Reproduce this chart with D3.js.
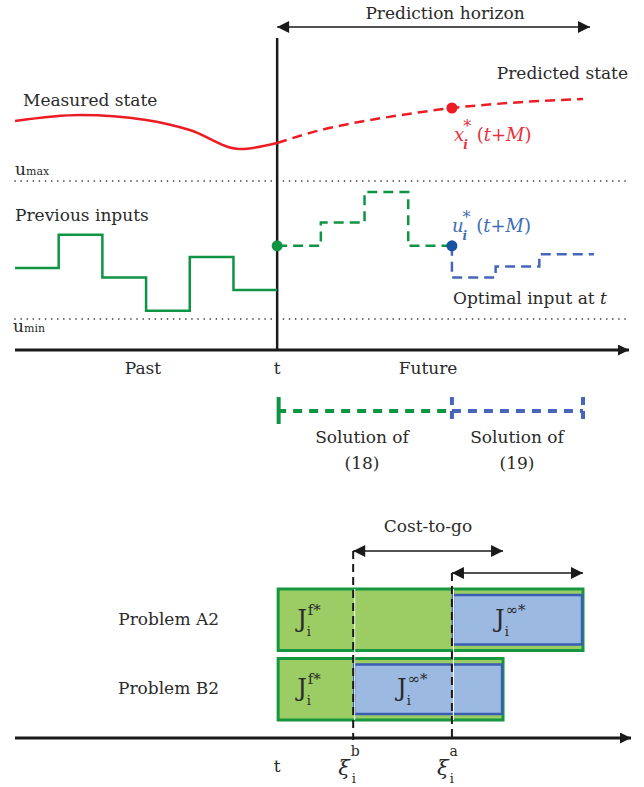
<!DOCTYPE html>
<html>
<head>
<meta charset="utf-8">
<script src="https://cdn.jsdelivr.net/npm/d3@7"></script>
<style>
body { margin: 0; background: #fff; }
text { font-family: "DejaVu Serif", serif; fill: #2a2a2a; }
</style>
</head>
<body>
<div id="chart"></div>
<script>
// MPC prediction horizon sketch + cost-to-go bars

// measured / predicted state (time in input steps, t = 0 is now)
var measuredT = [-6, -4.5, -3, -2, -0.85, 0];
var measuredState = [0.58, 0.70, 0.60, 0.40, 0.02, 0.14];
var predictedT = [0, 1, 2, 3, 4, 5, 6, 7];
var predictedState = [0.14, 0.40, 0.58, 0.72, 0.84, 0.92, 0.98, 1.02];

// previous inputs (step starts) and levels
var pastT = [-6, -5, -4, -3, -2, -1, 0];
var pastInput = [0.37, 0.61, 0.30, 0.06, 0.45, 0.21, 0.21];
// solution of (18), green dashed
var futureT = [0, 1, 2, 3, 4];
var futureInput = [0.53, 0.70, 0.92, 0.53, 0.53];
// solution of (19), blue dashed
var optimalT = [4, 4, 5, 6, 7.25];
var optimalInput = [0.53, 0.30, 0.38, 0.47, 0.47];

// bottom panel
var problems = ["Problem A2", "Problem B2"];
var xiLabels = ["a", "b"];
var xiT = [4, 1.74];        // switching instant per problem
var endT = [7, 5.17];       // end of the cost-to-go per problem

var width = 644, height = 787;

var svg = d3.select("#chart").append("svg")
	.attr("width", width)
	.attr("height", height);

var x = d3.scaleLinear().domain([-6, 7]).range([15, 583]);
var yState = d3.scaleLinear().domain([0, 1]).range([150, 100]);
var yInput = d3.scaleLinear().domain([0, 1]).range([319, 181]);
var yRow = d3.scaleBand().domain(problems).range([589, 720]).paddingInner(0.115);

var red = "#ec1c24", green = "#0f9444", blue = "#4766b8", blueDot = "#1552a0";

var defs = svg.append("defs");
function marker(id, len, wid) {
	defs.append("marker")
		.attr("id", id)
		.attr("markerUnits", "userSpaceOnUse")
		.attr("viewBox", "0 0 10 10")
		.attr("refX", 10).attr("refY", 5)
		.attr("markerWidth", len).attr("markerHeight", wid)
		.attr("orient", "auto-start-reverse")
	  .append("path")
		.attr("d", "M0,0L10,5L0,10z")
		.attr("fill", "#1a1a1a");
}
marker("big", 15, 11);
marker("small", 15, 12);

// ---------- top panel ----------
var state = d3.line()
	.x(function(d) { return x(d[0]); })
	.y(function(d) { return yState(d[1]); })
	.curve(d3.curveMonotoneX);

var step = d3.line()
	.x(function(d) { return x(d[0]); })
	.y(function(d) { return yInput(d[1]); })
	.curve(d3.curveStepAfter);

// u limits
[1, 0].forEach(function(v) {
	svg.append("line")
		.attr("x1", 15).attr("x2", 628)
		.attr("y1", yInput(v)).attr("y2", yInput(v))
		.attr("stroke", "#222").attr("stroke-width", 1.6)
		.attr("stroke-linecap", "round")
		.attr("stroke-dasharray", "0.1,6");
});
var um = svg.append("text").attr("x", 15).attr("y", 175);
um.append("tspan").style("font-size", "17px").text("u");
um.append("tspan").style("font-size", "11px").text("max");
var un = svg.append("text").attr("x", 13).attr("y", 332);
un.append("tspan").style("font-size", "17px").text("u");
un.append("tspan").style("font-size", "11px").text("min");

// axes
svg.append("line")
	.attr("x1", 15).attr("x2", 629).attr("y1", 350).attr("y2", 350)
	.attr("stroke", "#1a1a1a").attr("stroke-width", 3)
	.attr("marker-end", "url(#big)");
svg.append("line")
	.attr("x1", x(0)).attr("x2", x(0)).attr("y1", 38).attr("y2", 351)
	.attr("stroke", "#1a1a1a").attr("stroke-width", 2.5);

// prediction horizon arrow
svg.append("line")
	.attr("x1", x(0)).attr("x2", 590).attr("y1", 27).attr("y2", 27)
	.attr("stroke", "#1a1a1a").attr("stroke-width", 1.4)
	.attr("marker-start", "url(#small)").attr("marker-end", "url(#small)");
svg.append("text").attr("x", 445).attr("y", 19).attr("text-anchor", "middle")
	.style("font-size", "17px").text("Prediction horizon");

// state curves
svg.append("path")
	.datum(d3.zip(measuredT, measuredState))
	.attr("d", state)
	.attr("fill", "none").attr("stroke", red).attr("stroke-width", 2.5);
svg.append("path")
	.datum(d3.zip(predictedT, predictedState))
	.attr("d", state)
	.attr("fill", "none").attr("stroke", red).attr("stroke-width", 2.5)
	.attr("stroke-dasharray", "10,6");
svg.append("circle")
	.attr("cx", x(4)).attr("cy", yState(predictedState[4])).attr("r", 5.5)
	.attr("fill", red);

svg.append("text").attr("x", 23).attr("y", 106).style("font-size", "17px").text("Measured state");
svg.append("text").attr("x", 628).attr("y", 79).attr("text-anchor", "end")
	.style("font-size", "17px").text("Predicted state");

// inputs
svg.append("path")
	.datum(d3.zip(pastT, pastInput))
	.attr("d", step)
	.attr("fill", "none").attr("stroke", green).attr("stroke-width", 2.5);
svg.append("path")
	.datum(d3.zip(futureT, futureInput))
	.attr("d", step)
	.attr("fill", "none").attr("stroke", green).attr("stroke-width", 2.5)
	.attr("stroke-dasharray", "10,6");
svg.append("path")
	.datum(d3.zip(optimalT, optimalInput))
	.attr("d", step)
	.attr("fill", "none").attr("stroke", blue).attr("stroke-width", 2.5)
	.attr("stroke-dasharray", "10,6");
svg.append("circle")
	.attr("cx", x(0)).attr("cy", yInput(futureInput[0])).attr("r", 5.5)
	.attr("fill", green);
svg.append("circle")
	.attr("cx", x(4)).attr("cy", yInput(futureInput[4])).attr("r", 5.5)
	.attr("fill", blueDot);

svg.append("text").attr("x", 15).attr("y", 221).style("font-size", "17px").text("Previous inputs");
svg.append("text").attr("x", 453).attr("y", 304).style("font-size", "17px")
	.text("Optimal input at ")
  .append("tspan").style("font-style", "italic").text("t");

// math labels x*_i(t+M), u*_i(t+M) -- one text, tspans shifted by dx/dy
function mathLabel(sym, xp, yp, color) {
	var t = svg.append("text").attr("x", xp).attr("y", yp).style("fill", color);
	t.append("tspan").style("font-size", "18px").style("font-style", "italic").text(sym);
	t.append("tspan").attr("dx", -1).attr("dy", -9).style("font-size", "16px").text("*");
	t.append("tspan").attr("dx", -8).attr("dy", 17).style("font-size", "12px")
		.style("font-style", "italic").style("font-weight", "bold").text("i");
	t.append("tspan").attr("dx", 9).attr("dy", -8).style("font-size", "18px").text("(");
	t.append("tspan").style("font-size", "18px").style("font-style", "italic").text("t");
	t.append("tspan").style("font-size", "18px").text("+");
	t.append("tspan").style("font-size", "18px").style("font-style", "italic").text("M");
	t.append("tspan").style("font-size", "18px").text(")");
}
mathLabel("x", 454, 141, "#e8323c");
mathLabel("u", 452, 232, "#3e6db5");

// time axis labels
svg.append("text").attr("x", 143).attr("y", 374).attr("text-anchor", "middle").style("font-size", "17px").text("Past");
svg.append("text").attr("x", x(0)).attr("y", 374).attr("text-anchor", "middle").style("font-size", "17px").text("t");
svg.append("text").attr("x", 428).attr("y", 374).attr("text-anchor", "middle").style("font-size", "17px").text("Future");

// solution spans
svg.append("line")
	.attr("x1", x(0)).attr("x2", x(4)).attr("y1", 411).attr("y2", 411)
	.attr("stroke", green).attr("stroke-width", 4).attr("stroke-dasharray", "9,7");
svg.append("line")
	.attr("x1", x(0) + 1.5).attr("x2", x(0) + 1.5).attr("y1", 397).attr("y2", 424)
	.attr("stroke", green).attr("stroke-width", 4);
svg.append("line")
	.attr("x1", x(4)).attr("x2", x(7)).attr("y1", 411).attr("y2", 411)
	.attr("stroke", blue).attr("stroke-width", 4).attr("stroke-dasharray", "9,7");
[4, 7].forEach(function(t) {
	svg.append("line")
		.attr("x1", x(t)).attr("x2", x(t)).attr("y1", 397).attr("y2", 424)
		.attr("stroke", blue).attr("stroke-width", 4).attr("stroke-dasharray", "8,6");
});
[[362, "(18)"], [517, "(19)"]].forEach(function(s) {
	svg.append("text").attr("x", s[0]).attr("y", 443).attr("text-anchor", "middle")
		.style("font-size", "17px").text("Solution of");
	svg.append("text").attr("x", s[0]).attr("y", 469).attr("text-anchor", "middle")
		.style("font-size", "17px").text(s[1]);
});

// ---------- bottom panel ----------
svg.append("text").attr("x", 428).attr("y", 532).attr("text-anchor", "middle")
	.style("font-size", "17px").text("Cost-to-go");

function jLabel(xp, yp, sup, supW) {
	var t = svg.append("text").attr("x", xp).attr("y", yp);
	t.append("tspan").style("font-size", "24px").text("J");
	t.append("tspan").attr("dx", 1).attr("dy", -12).style("font-size", "15px").text(sup);
	t.append("tspan").attr("dx", -supW).attr("dy", 21).style("font-size", "13px").text("i");
}

// rows
problems.forEach(function(p, i) {
	var y0 = yRow(p), h = yRow.bandwidth();
	svg.append("rect")
		.attr("x", x(0) + 1).attr("y", y0)
		.attr("width", x(endT[i]) - x(0) - 1).attr("height", h)
		.attr("fill", "#9bcd64").attr("stroke", "#16973f").attr("stroke-width", 3);
	svg.append("rect")
		.attr("x", x(xiT[i]) + 1).attr("y", y0 + 6)
		.attr("width", x(endT[i]) - x(xiT[i]) - 2).attr("height", h - 12)
		.attr("fill", "#9bb9e1").attr("stroke", "#3a5cb2").attr("stroke-width", 2.5);
	svg.append("text").attr("x", 219).attr("y", y0 + 36).attr("text-anchor", "end")
		.style("font-size", "17px").text(p);
	jLabel(x(0) + 20, y0 + 38, "f*", 14);
	var jx = i === 0 ? 495 : 397;
	jLabel(jx, y0 + 38, "\u221e*", 21);
});

// xi markers: dashed verticals, cost-to-go arrows
var arrowY = [573, 551];
xiT.forEach(function(t, i) {
	svg.append("line")
		.attr("x1", x(t) + 1.5).attr("x2", x(t) + 1.5).attr("y1", yRow(problems[0])).attr("y2", 720)
		.attr("stroke", "#fff").attr("stroke-width", 1);
	svg.append("line")
		.attr("x1", x(t)).attr("x2", x(t)).attr("y1", arrowY[i]).attr("y2", 740)
		.attr("stroke", "#1a1a1a").attr("stroke-width", 2).attr("stroke-dasharray", "8,5");
	svg.append("line")
		.attr("x1", x(t)).attr("x2", x(endT[i])).attr("y1", arrowY[i]).attr("y2", arrowY[i])
		.attr("stroke", "#1a1a1a").attr("stroke-width", 1.4)
		.attr("marker-start", "url(#small)").attr("marker-end", "url(#small)");
	var lab = svg.append("text").attr("x", x(t) - 15).attr("y", 775);
	lab.append("tspan").style("font-size", "21px").style("font-style", "italic").text("\u03be");
	lab.append("tspan").attr("dx", 1).attr("dy", -19).style("font-size", "14px").text(xiLabels[i]);
	lab.append("tspan").attr("dx", -8).attr("dy", 27).style("font-size", "13px").text("i");
});

svg.append("line")
	.attr("x1", 15).attr("x2", 631).attr("y1", 738).attr("y2", 738)
	.attr("stroke", "#1a1a1a").attr("stroke-width", 3)
	.attr("marker-end", "url(#big)");
svg.append("text").attr("x", x(0)).attr("y", 772).attr("text-anchor", "middle")
	.style("font-size", "17px").text("t");
</script>
</body>
</html>
